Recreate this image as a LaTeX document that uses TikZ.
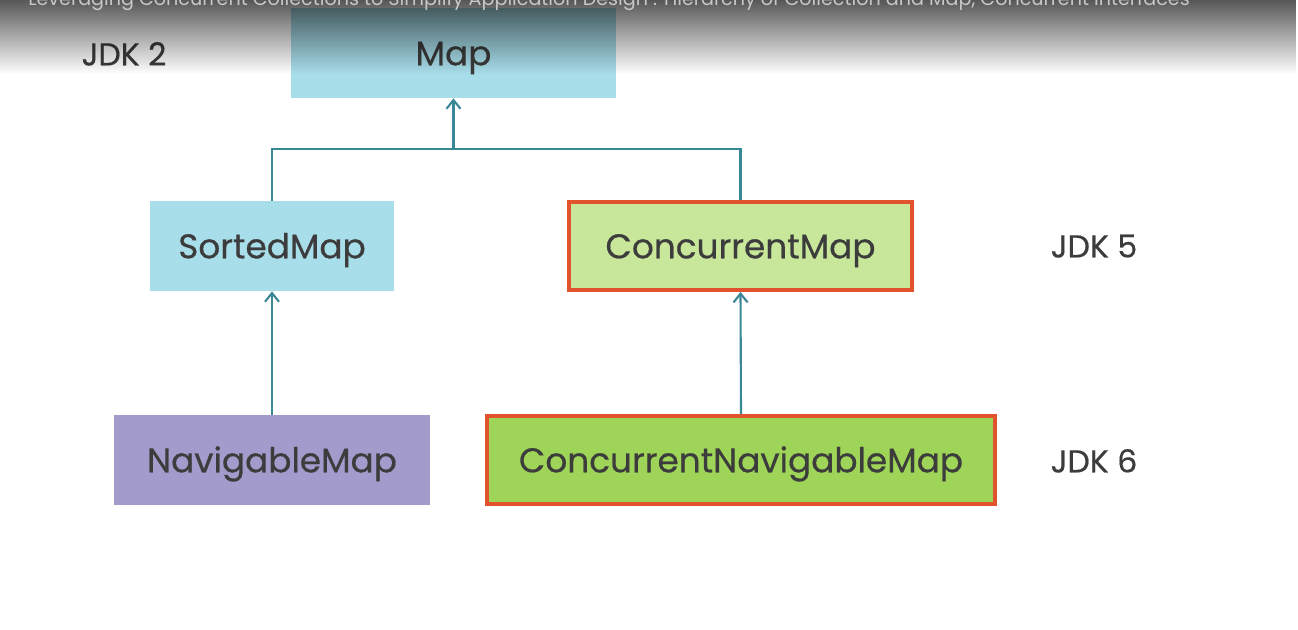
\documentclass[tikz,border=0pt]{standalone}
\usepackage{fontspec}
\setmainfont{Poppins}
\newfontfamily\labelfont{Poppins}[FakeBold=0.5]
\usetikzlibrary{arrows.meta,fadings}
\definecolor{mapblue}{HTML}{A8DEEA}
\definecolor{cmgreen}{HTML}{C8E79A}
\definecolor{cnmgreen}{HTML}{9ED457}
\definecolor{navpurple}{HTML}{A29BCB}
\definecolor{jdkred}{HTML}{E0532C}
\definecolor{linkteal}{HTML}{3A8795}
\definecolor{labelgray}{HTML}{3C3C3C}
\begin{document}
\begin{tikzpicture}[
    x=0.02cm,y=-0.02cm,
    iface/.style={rectangle,inner sep=0pt,text=labelgray,font=\labelfont\fontsize{19.5}{22}\selectfont,
        text height=14pt,text depth=0pt,minimum height=1.8cm},
    conc/.style={iface,draw=jdkred,line width=2.2pt,minimum height=1.76cm},
    jdk/.style={text=labelgray,font=\labelfont\fontsize{18}{20}\selectfont,text height=13pt,text depth=0pt},
    link/.style={draw=linkteal,line width=1.2pt},
    inherit/.style={link,-{Straight Barb[length=5pt,width=8pt]}},
    ]
    \useasboundingbox (0,0) rectangle (1298,629);
    \clip (0,0) rectangle (1298,629);

    %% Interfaces
    \node[iface,fill=mapblue,minimum width=6.5cm] (Map) at (453.5,53) {Map};
    \node[iface,fill=mapblue,minimum width=4.88cm] (SortedMap) at (272,246) {SortedMap};
    \node[conc,fill=cmgreen,minimum width=6.86cm] (CMap) at (740.5,246) {ConcurrentMap};
    \node[iface,fill=navpurple,minimum width=6.32cm] (NavMap) at (272,460) {NavigableMap};
    \node[conc,fill=cnmgreen,minimum width=10.16cm] (CNavMap) at (741,460) {ConcurrentNavigableMap};

    % JDK versions
    \node[jdk] (jdk2) at (124,54) {JDK 2};
    \node[jdk] (jdk5) at (1094,246) {JDK 5};
    \node[jdk] (jdk6) at (1094,461) {JDK 6};

    % Inheritance lines
    \coordinate (split) at (453.5,149);
    \draw[link] (SortedMap.north) |- (split) -| (CMap.north);
    \draw[inherit] (split) -- (Map.south);
    \draw[inherit] (NavMap.north) -- (SortedMap.south);
    \draw[inherit] (CNavMap.north) -- (CMap.south);

    % Player overlay on top
    \fill[black,opacity=0.66,path fading=south] (0,0) rectangle (1298,74);
    \node[anchor=base west,inner sep=0pt,text=white!78!black,
        font=\fontsize{10.9}{12}\selectfont] (title) at (28,5)
        {Leveraging Concurrent Collections to Simplify Application Design : Hierarchy of Collection and Map, Concurrent Interfaces};
\end{tikzpicture}
\end{document}
